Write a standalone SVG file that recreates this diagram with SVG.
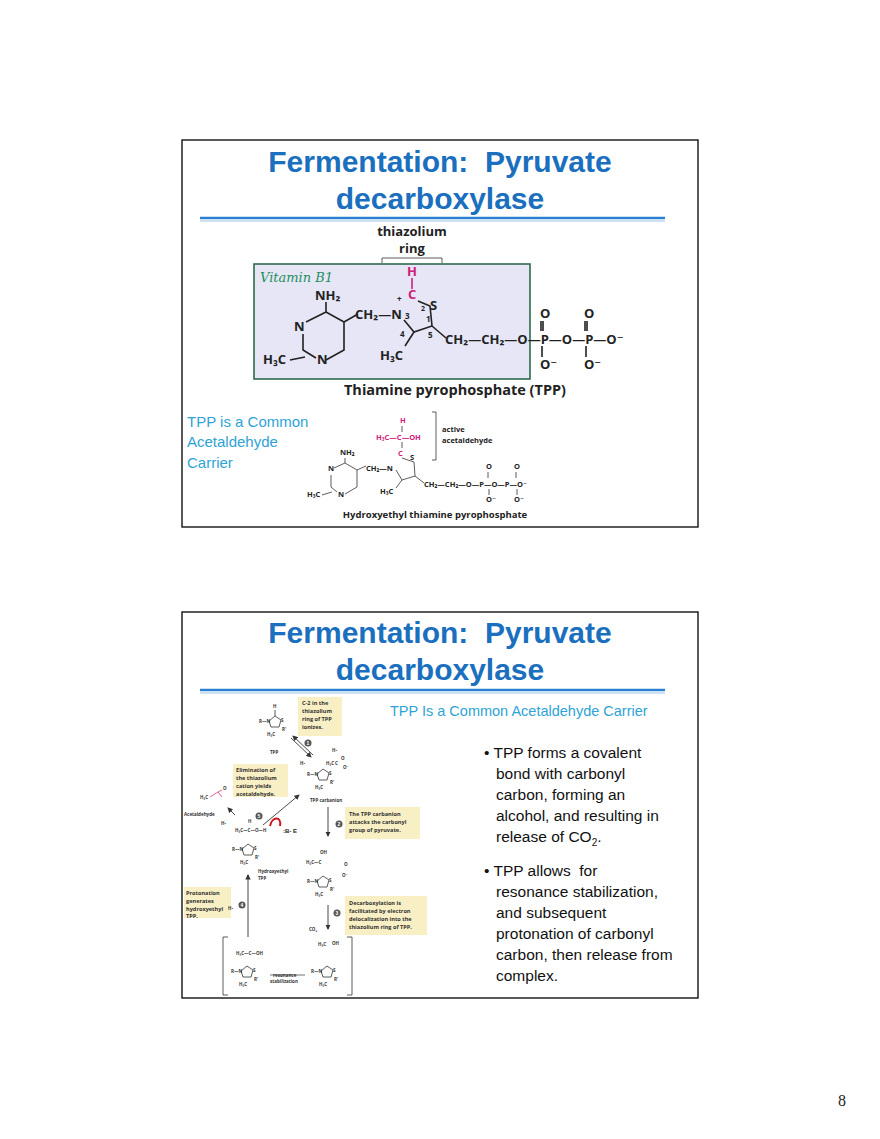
<svg xmlns="http://www.w3.org/2000/svg" width="880" height="1139" viewBox="0 0 880 1139">
<style>
.frame{fill:#fff;stroke:#000;stroke-width:1.3}
.title{font-family:"Liberation Sans",Arial,sans-serif;font-weight:bold;font-size:30px;fill:#1a6fbe;text-anchor:middle;white-space:pre}
.cy{font-family:"Liberation Sans",Arial,sans-serif;fill:#2ea3d6}
.ch{font-family:"Open Sans","DejaVu Sans",sans-serif;font-weight:bold;fill:#222}
.mg{fill:#d0207a}
.bl{font-family:"Liberation Sans",Arial,sans-serif;font-size:15.5px;fill:#111}
.bd{stroke:#222;stroke-width:1.6;fill:none}
.bds{stroke:#333;stroke-width:0.8;fill:none}
.mgl{stroke:#d0207a;fill:none}
.yb{fill:#f8f0c4}
.yt{font-family:"Open Sans","DejaVu Sans",sans-serif;font-weight:bold;font-size:5.6px;fill:#333}
.st{font-family:"Open Sans","DejaVu Sans",sans-serif;font-weight:bold;font-size:4.5px;fill:#333}
.num{fill:#555}
.numt{font-family:"Liberation Sans",Arial,sans-serif;font-weight:bold;font-size:5px;fill:#fff;text-anchor:middle}
.arr{stroke:#333;stroke-width:0.9;fill:none;marker-end:url(#ah)}
</style>
<defs>
<marker id="ah" markerWidth="6" markerHeight="6" refX="5" refY="3" orient="auto" markerUnits="strokeWidth"><path d="M0,0 L6,3 L0,6 z" fill="#333"/></marker>
<g id="ring">
<path class="bds" d="M-6,-1 L0,-6 L6,-2 L4,5 L-4,5 Z"/>
<text class="st" x="-16" y="1">R—N</text>
<text class="st" x="6" y="0">S</text>
<text class="st" x="-8" y="14">H₃C</text>
<text class="st" x="7" y="9">R'</text>
</g>
</defs>
<rect width="880" height="1139" fill="#fff"/>

<!-- Slide 1 -->
<g id="slide1">
<rect class="frame" x="182" y="140" width="516" height="387"/>
<text class="title" x="440" y="172" xml:space="preserve">Fermentation:  Pyruvate</text>
<text class="title" x="440" y="209">decarboxylase</text>
<line x1="200" y1="218" x2="665" y2="218" stroke="#2a7fd0" stroke-width="2.5"/>
<line x1="200" y1="221" x2="665" y2="221" stroke="#9cc6ea" stroke-width="1.2"/>
</g>
<g id="tpp">
<rect x="254" y="264" width="276" height="115" fill="#e6e6f6" stroke="#2e6b50" stroke-width="1.6"/>
<text x="260" y="282" font-family="'DejaVu Serif',serif" font-style="italic" font-size="13" fill="#1f8f60">Vitamin B1</text>
<g class="ch" font-size="13">
<text x="412" y="236" text-anchor="middle">thiazolium</text>
<text x="412" y="253" text-anchor="middle">ring</text>
<text x="315" y="300">NH₂</text>
<text x="294" y="331">N</text>
<text x="263" y="364">H₃C</text>
<text x="317" y="364">N</text>
<text x="355" y="319">CH₂—N</text>
<text x="405" y="319" font-size="8">3</text>
<text x="397" y="302" font-size="8">+</text>
<text x="421" y="311" font-size="7">2</text>
<text x="430" y="310">S</text>
<text x="426" y="322" font-size="8">1</text>
<text x="400" y="337" font-size="8">4</text>
<text x="428" y="338" font-size="8">5</text>
<text x="380" y="360">H₃C</text>
<text x="445" y="344">CH₂—CH₂—O—P—O—P—O⁻</text>
<text x="540" y="318">O</text>
<text x="584" y="318">O</text>
<text x="540" y="369">O⁻</text>
<text x="584" y="369">O⁻</text>
<text x="455" y="395" text-anchor="middle" font-size="14.5">Thiamine pyrophosphate (TPP)</text>
</g>
<g class="ch mg" font-size="13"><text x="407" y="276">H</text><text x="408" y="299">C</text></g>
<path d="M382,263 V258 H442 V263" class="bds"/>
<line x1="412" y1="278" x2="412" y2="289" class="mgl" stroke-width="1.6"/>
<path class="bd" d="M326,302 L326,312 L344,322 L344,350 L326,360 M326,312 L306,322 M303,334 L303,350 L316,358 M344,322 L358,314 M305,357 L290,360"/>
<path class="bd" d="M418,301 L430,306 L432,326 L414,332 L404,320 M414,332 L405,346 M432,326 L446,338 M541,321 V331 M543,321 V331 M585,321 V331 M587,321 V331 M542,346 V357 M586,346 V357"/>
</g>
<g id="hetpp">
<text class="cy" x="187" y="427" font-size="15">TPP is a Common</text>
<text class="cy" x="187" y="447" font-size="15">Acetaldehyde</text>
<text class="cy" x="187" y="468" font-size="15">Carrier</text>
<g class="ch" font-size="7.5">
<text x="400" y="423" class="mg">H</text>
<text x="376" y="440" class="mg">H₃C—C—OH</text>
<text x="398" y="456" class="mg">C</text>
<text x="442" y="432">active</text>
<text x="442" y="443">acetaldehyde</text>
<text x="340" y="455">NH₂</text>
<text x="328" y="471">N</text>
<text x="366" y="471">CH₂—N</text>
<text x="410" y="460">S</text>
<text x="307" y="497">H₃C</text>
<text x="338" y="497">N</text>
<text x="380" y="494">H₃C</text>
<text x="424" y="487">CH₂—CH₂—O—P—O—P—O⁻</text>
<text x="486" y="469">O</text>
<text x="514" y="469">O</text>
<text x="486" y="502">O⁻</text>
<text x="514" y="502">O⁻</text>
<text x="435" y="518" text-anchor="middle" font-size="9.5">Hydroxyethyl thiamine pyrophosphate</text>
</g>
<path d="M432,412 H436 V460 H432" class="bds"/>
<path class="bds" d="M402,426 V432 M402,442 V448 M345,458 L345,463 L357,470 L357,487 L345,494 M345,463 L334,468 M331,475 L331,487 L337,492 M357,470 L366,466 M332,492 L322,495 M402,458 L414,462 L415,476 L402,480 L396,470 M402,480 L396,488 M415,476 L424,483 M488,472 V478 M516,472 V478 M489,489 V495 M517,489 V495"/>
</g>

<!-- Slide 2 -->
<g id="slide2">
<rect class="frame" x="182" y="612" width="516" height="386"/>
<text class="title" x="440" y="643" xml:space="preserve">Fermentation:  Pyruvate</text>
<text class="title" x="440" y="680">decarboxylase</text>
<line x1="200" y1="690" x2="665" y2="690" stroke="#2a7fd0" stroke-width="2.5"/>
<line x1="200" y1="693" x2="665" y2="693" stroke="#9cc6ea" stroke-width="1.2"/>
<text class="cy" x="390" y="716" font-size="14.5">TPP Is a Common Acetaldehyde Carrier</text>
</g>
<g id="bullets">
<text class="bl" x="484" y="758">• TPP forms a covalent</text>
<text class="bl" x="496" y="779">bond with carbonyl</text>
<text class="bl" x="496" y="800">carbon, forming an</text>
<text class="bl" x="496" y="821">alcohol, and resulting in</text>
<text class="bl" x="496" y="842">release of CO<tspan font-size="10" dy="4">2</tspan><tspan dy="-4">.</tspan></text>
<text class="bl" x="484" y="876" xml:space="preserve">• TPP allows  for</text>
<text class="bl" x="496" y="897">resonance stabilization,</text>
<text class="bl" x="496" y="918">and subsequent</text>
<text class="bl" x="496" y="939">protonation of carbonyl</text>
<text class="bl" x="496" y="960">carbon, then release from</text>
<text class="bl" x="496" y="981">complex.</text>
</g>
<g id="mechanism">
<rect class="yb" x="298" y="697" width="44" height="39"/>
<text class="yt" x="302" y="705">C-2 in the</text><text class="yt" x="302" y="713">thiazolium</text><text class="yt" x="302" y="721">ring of TPP</text><text class="yt" x="302" y="729">ionizes.</text>
<rect class="yb" x="233" y="764" width="55" height="33"/>
<text class="yt" x="236" y="772">Elimination of</text><text class="yt" x="236" y="780">the thiazolium</text><text class="yt" x="236" y="788">cation yields</text><text class="yt" x="236" y="796">acetaldehyde.</text>
<rect class="yb" x="345" y="807" width="75" height="32"/>
<text class="yt" x="349" y="816">The TPP carbanion</text><text class="yt" x="349" y="824">attacks the carbonyl</text><text class="yt" x="349" y="832">group of pyruvate.</text>
<rect class="yb" x="184" y="887" width="47" height="31"/>
<text class="yt" x="186" y="895">Protonation</text><text class="yt" x="186" y="903">generates</text><text class="yt" x="186" y="911">hydroxyethyl</text><text class="yt" x="186" y="918">TPP.</text>
<rect class="yb" x="345" y="896" width="82" height="39"/>
<text class="yt" x="349" y="905">Decarboxylation is</text><text class="yt" x="349" y="913">facilitated by electron</text><text class="yt" x="349" y="921">delocalization into the</text><text class="yt" x="349" y="929">thiazolium ring of TPP.</text>

<use href="#ring" x="275" y="722"/>
<text class="st" x="273" y="708">H</text><line x1="275" y1="710" x2="275" y2="716" class="bds"/>
<text class="st" x="270" y="754">TPP</text>
<use href="#ring" x="323" y="775"/>
<text class="st" x="310" y="802" font-size="5.5">TPP carbanion</text>
<text class="st" x="300" y="765">H⁺</text>
<use href="#ring" x="248" y="850"/>
<text class="st" x="258" y="873" font-size="5.5">Hydroxyethyl</text><text class="st" x="258" y="880" font-size="5.5">TPP</text>
<use href="#ring" x="323" y="882"/>
<use href="#ring" x="247" y="972"/>
<use href="#ring" x="327" y="972"/>

<g class="st mg" font-size="4.8">
<text x="200" y="799">H₃C</text><text x="223" y="790">O</text>
<text x="235" y="832">H₃C—C—O—H</text>
<text x="332" y="752">H⁺</text><text x="335" y="765">C</text><text x="341" y="760">O</text><text x="343" y="769">O⁻</text><text x="326" y="765">H₃C</text>
<text x="320" y="854">OH</text><text x="306" y="864">H₃C—C</text><text x="344" y="866">O</text><text x="342" y="877">O⁻</text>
<text x="309" y="931">CO₂</text>
<text x="236" y="955">H₃C—C—OH</text>
<text x="318" y="946">H₃C</text><text x="332" y="945">OH</text>
</g>
<path class="mgl" stroke-width="0.7" d="M210,797 L218,792 L222,790 M218,792 L222,797"/>
<text class="st" x="184" y="816">Acetaldehyde</text>
<text class="st" x="221" y="825">H⁺</text>
<text class="st" x="248" y="823">H</text>
<text class="st" x="228" y="910">H⁺</text>
<text x="283" y="833" font-family="'Liberation Sans',Arial,sans-serif" font-weight="bold" font-size="6" fill="#222">:B- E</text>
<path d="M270,826 C272,816 282,816 280,826" stroke="#d0141a" stroke-width="2" fill="none"/>
<text class="st" x="273" y="977" font-size="4">resonance</text><text class="st" x="270" y="983" font-size="4">stabilization</text>

<g class="arr">
<line x1="328" y1="807" x2="328" y2="836"/>
<line x1="328" y1="905" x2="328" y2="929"/>
<line x1="248" y1="937" x2="248" y2="875"/>
<line x1="263" y1="825" x2="299" y2="795"/>
<line x1="291" y1="738" x2="311" y2="757"/>
<line x1="313" y1="755" x2="293" y2="736"/>
<line x1="235" y1="815" x2="228" y2="808"/>
</g>
<line x1="270" y1="975" x2="305" y2="975" stroke="#333" stroke-width="0.7"/>
<path d="M228,937 H223 V995 H228 M347,937 H352 V995 H347" class="bds"/>
<circle class="num" cx="308" cy="743" r="3.5"/><text class="numt" x="308" y="745">1</text>
<circle class="num" cx="339" cy="824" r="3.5"/><text class="numt" x="339" y="826">2</text>
<circle class="num" cx="337" cy="913" r="3.5"/><text class="numt" x="337" y="915">3</text>
<circle class="num" cx="242" cy="905" r="3.5"/><text class="numt" x="242" y="907">4</text>
<circle class="num" cx="259" cy="816" r="3.5"/><text class="numt" x="259" y="818">5</text>
</g>

<text x="838" y="1106" font-family="'Liberation Serif','Times New Roman',serif" font-size="16" fill="#222">8</text>
</svg>
